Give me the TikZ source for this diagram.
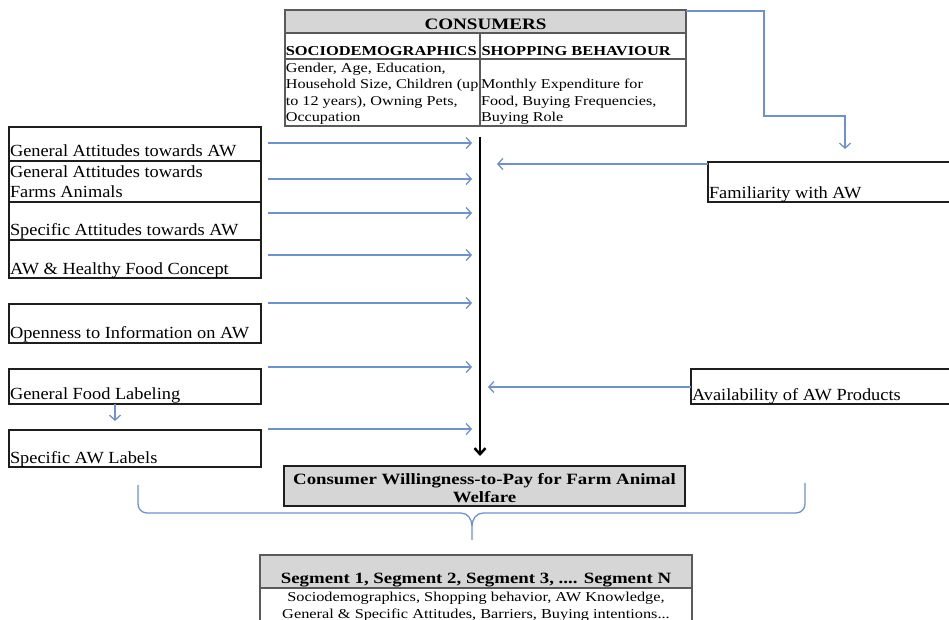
\documentclass[tikz,border=0pt]{standalone}
\usepackage{fontspec}
\setmainfont{Liberation Serif}[FakeStretch=1.2]
\newfontfamily\boxfont{Liberation Serif}[FakeStretch=1.08]
\usetikzlibrary{arrows.meta,calc}
\definecolor{lineblue}{RGB}{108,146,208}
\definecolor{hdrgrey}{RGB}{214,214,214}
\definecolor{edge}{RGB}{30,30,30}
\definecolor{tedge}{RGB}{90,90,90}
\tikzset{
  every node/.style={inner sep=0pt, outer sep=0pt},
  lbox/.style={draw=edge, line width=1.3pt, anchor=north west, minimum width=252pt},
  rbox/.style={draw=edge, line width=1.3pt, anchor=north west},
  tcell/.style={draw=tedge, line width=1.2pt, anchor=north west},
  ltext/.style={font=\boxfont\fontsize{17}{20}\selectfont, anchor=base west, align=left},
  ttext/.style={font=\fontsize{13.5}{16.3}\selectfont, anchor=base west, align=left},
  thead/.style={font=\bfseries\fontsize{13.7}{16}\selectfont, anchor=base west},
  bigbold/.style={font=\bfseries\fontsize{15.7}{18}\selectfont, anchor=base, align=center},
  barrow/.style={draw=lineblue, line width=1.3pt, -{Straight Barb[length=5pt,width=11pt]}},
  karrow/.style={draw=black, line width=2pt, -{Straight Barb[length=6pt,width=11pt,line width=2.5pt]}},
  bline/.style={draw=lineblue, line width=1.3pt}
}
\begin{document}
\begin{tikzpicture}[x=1pt,y=-1pt]
\useasboundingbox (0,0) rectangle (949,620);

% CONSUMERS table
\node[tcell, fill=hdrgrey, minimum width=401pt, minimum height=23pt] (conshead) at (285,10) {};
\node[tcell, minimum width=195pt, minimum height=26pt] (sociohead) at (285,33) {};
\node[tcell, minimum width=206pt, minimum height=26pt] (shophead) at (480,33) {};
\node[tcell, minimum width=195pt, minimum height=67pt] (sociob) at (285,59) {};
\node[tcell, minimum width=206pt, minimum height=67pt] (shopb) at (480,59) {};
\node[draw=tedge, line width=1.6pt, anchor=north west, minimum width=401pt, minimum height=116pt] (cons) at (285,10) {};
\node[font=\bfseries\fontsize{15.9}{18}\selectfont, anchor=base] (consT) at (485.5,29.5) {CONSUMERS};
\node[thead] (socioT) at (285.8,55.7) {SOCIODEMOGRAPHICS};
\node[thead] (shopT) at (481.5,55.7) {SHOPPING BEHAVIOUR};
% multi-line nodes: base anchor = baseline of last line
\node[ttext] (socioBT) at (285.8,121.6) {Gender, Age, Education,\\Household Size, Children (up\\to 12 years), Owning Pets,\\Occupation};
\node[ttext] (shopBT) at (481,121.6) {Monthly Expenditure for\\Food, Buying Frequencies,\\Buying Role};

% left boxes
\node[lbox, minimum height=34pt] (b1) at (9,127) {};
\node[lbox, minimum height=41pt] (b2) at (9,161) {};
\node[lbox, minimum height=38pt] (b3) at (9,202) {};
\node[lbox, minimum height=38pt] (b4) at (9,240) {};
\node[lbox, minimum height=39pt] (b5) at (9,304) {};
\node[lbox, minimum height=35pt] (b6) at (9,369) {};
\node[lbox, minimum height=37pt] (b7) at (9,430) {};
\node[ltext] (t1) at ($(b1.south west)+(1,-4)$) {General Attitudes towards AW};
\node[ltext] (t2) at ($(b2.south west)+(1,-4)$) {General Attitudes towards\\Farms Animals};
\node[ltext] (t3) at ($(b3.south west)+(1,-5)$) {Specific Attitudes towards AW};
\node[ltext] (t4) at ($(b4.south west)+(1,-4)$) {AW \& Healthy Food Concept};
\node[ltext] (t5) at ($(b5.south west)+(1,-5)$) {Openness to Information on AW};
\node[ltext] (t6) at ($(b6.south west)+(1,-5)$) {General Food Labeling};
\node[ltext] (t7) at ($(b7.south west)+(1,-4)$) {Specific AW Labels};

% right boxes
\node[rbox, minimum width=250pt, minimum height=40pt] (fam) at (708,162) {};
\node[rbox, minimum width=265pt, minimum height=35pt] (avail) at (691,369) {};
\node[ltext] (famT) at ($(fam.south west)+(1,-3)$) {Familiarity with AW};
\node[ltext] (availT) at ($(avail.south west)+(1,-4)$) {Availability of AW Products};

% WTP box
\node[draw=edge, line width=1.6pt, fill=hdrgrey, anchor=north west, minimum width=401pt, minimum height=40pt] (wtp) at (284,466) {};
\node[bigbold] (wtpT) at (484.5,502) {Consumer Willingness-to-Pay for Farm Animal\\Welfare};

% Segment box
\node[draw=tedge, line width=1.2pt, anchor=north west, minimum width=432pt, minimum height=60pt] (segb) at (260,588) {};
\node[draw=tedge, line width=1.6pt, fill=hdrgrey, anchor=north west, minimum width=432pt, minimum height=33pt] (seg) at (260,555) {};
\node[bigbold] (segT) at (476,583) {Segment 1, Segment 2, Segment 3, .... Segment N};
\node[font=\fontsize{13.6}{17}\selectfont, anchor=base, align=center] (segBT) at (476,618) {Sociodemographics, Shopping behavior, AW Knowledge,\\General \& Specific Attitudes, Barriers, Buying intentions...};

% central vertical arrow
\coordinate (vtop) at (480,137);
\coordinate (vbot) at (480,456);
\draw[karrow] (vtop) -- (vbot);

% arrows from left boxes
\draw[barrow] ($(b1.north east)+(7,16)$) -- ($(vtop)+(-8,6)$);
\draw[barrow] ($(b2.north east)+(7,18)$) -- ($(vtop)+(-8,42)$);
\draw[barrow] ($(b3.north east)+(7,11)$) -- ($(vtop)+(-8,76)$);
\draw[barrow] ($(b4.north east)+(7,15)$) -- ($(vtop)+(-8,118)$);
\draw[barrow] ($(b5.north east)+(7,-1)$) -- ($(vtop)+(-8,166)$);
\draw[barrow] ($(b6.north east)+(7,-2)$) -- ($(vtop)+(-8,230)$);
\draw[barrow] ($(b7.north east)+(7,-1)$) -- ($(vtop)+(-8,292)$);
\draw[barrow] ($(b6.south west)+(106,0)$) -- ($(b7.north west)+(106,-9)$);

% arrows from right boxes
\draw[barrow] ($(fam.north west)+(0,2)$) -- ($(vtop)+(17,27)$);
\draw[barrow] ($(avail.north west)+(0,18)$) -- ($(vtop)+(8,250)$);

% elbow from consumers to familiarity
\draw[barrow] ($(cons.north east)+(0,1)$) -- ++(78,0) -- ++(0,105) -- ++(81,0) -- ($(fam.north west)+(137,-13)$);

% brace
\coordinate (brL) at (138,485);
\coordinate (brR) at (805,483);
\coordinate (brTip) at (472,540);
\draw[bline] (brL) -- (138,504) to[out=-90,in=180] (147,513) -- (461,513) to[out=0,in=90] (472,526) -- (brTip);
\draw[bline] (brR) -- (805,504) to[out=-90,in=0] (796,513) -- (483,513) to[out=180,in=90] (472,526);
\end{tikzpicture}
\end{document}
